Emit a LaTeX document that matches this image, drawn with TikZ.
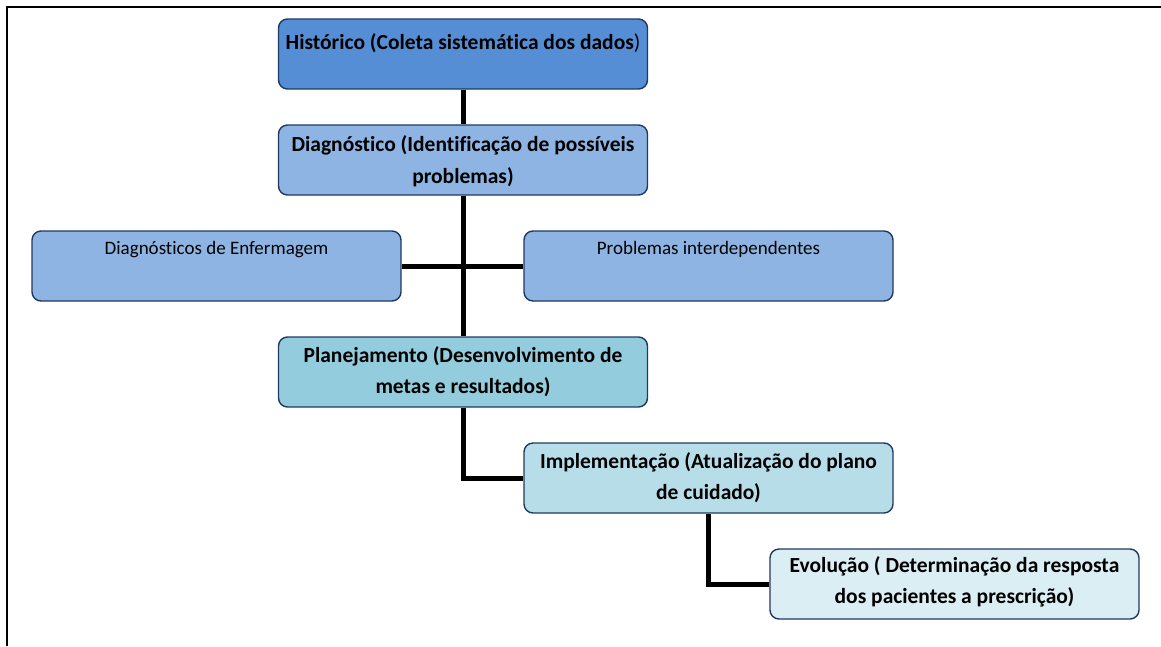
\documentclass[tikz,border=0pt]{standalone}
\usepackage{fontspec}
\setmainfont{Carlito}[Ligatures=NoCommon]
\usetikzlibrary{positioning}

\definecolor{borda}{HTML}{1F3A5F}
\definecolor{azul1}{HTML}{558ED5}
\definecolor{azul2}{HTML}{8EB4E3}
\definecolor{verde1}{HTML}{93CDDD}
\definecolor{verde2}{HTML}{B7DEE8}
\definecolor{verde3}{HTML}{DBEEF4}

\begin{document}
\begin{tikzpicture}[x=1pt, y=-1pt,
    etapa/.style={draw=borda, line width=1.4pt, rounded corners=9pt,
        minimum width=369pt, minimum height=70pt, inner sep=0pt,
        font=\fontsize{21.5}{31}\selectfont\bfseries},
    sub/.style={font=\fontsize{19}{24}\selectfont},
    liga/.style={line width=5pt}]
                \useasboundingbox (0,0) rectangle (1161,646);
                % Moldura:
                \draw[line width=2.5pt] (7,646) -- (7,7) -- (1161,7);

                % Etapas:
                \node[etapa, fill=azul1] (hist) at (463,54)
                    {\parbox[c][70pt][t]{358pt}{\centering\rule{0pt}{30pt}Histórico (Coleta sistemática dos dados{\mdseries )}}};
                \node[etapa, fill=azul2] (diag) at (463,160)
                    {\parbox[c][70pt][t]{358pt}{\baselineskip=32pt\centering\rule{0pt}{26pt}Diagnóstico (Identificação de possíveis problemas)}};
                \node[etapa, sub, fill=azul2] (enf) at (216.5,266)
                    {\parbox[c][70pt][t]{358pt}{\centering\rule{0pt}{23pt}Diagnósticos de Enfermagem}};
                \node[etapa, sub, fill=azul2] (prob) at (708.5,266)
                    {\parbox[c][70pt][t]{358pt}{\centering\rule{0pt}{23pt}Problemas interdependentes}};
                \node[etapa, fill=verde1] (plan) at (463,372)
                    {\parbox[c][70pt][t]{358pt}{\centering\rule{0pt}{25pt}Planejamento (Desenvolvimento de metas e resultados)}};
                \node[etapa, fill=verde2] (impl) at (708.5,478)
                    {\parbox[c][70pt][t]{358pt}{\centering\rule{0pt}{25pt}Implementação (Atualização do plano de cuidado)}};
                \node[etapa, fill=verde3] (evol) at (954.5,584)
                    {\parbox[c][70pt][t]{358pt}{\centering\rule{0pt}{23pt}Evolução ( Determinação da resposta dos pacientes a prescrição)}};

                % Ligações:
                \draw[liga] (hist.south) -- (diag.north);
                \draw[liga] (diag.south) -- (plan.north);
                \draw[liga] (enf.east) -- (prob.west);
                \draw[liga] (plan.south) |- (impl.west);
                \draw[liga] (impl.south) |- (evol.west);
\end{tikzpicture}
\end{document}
